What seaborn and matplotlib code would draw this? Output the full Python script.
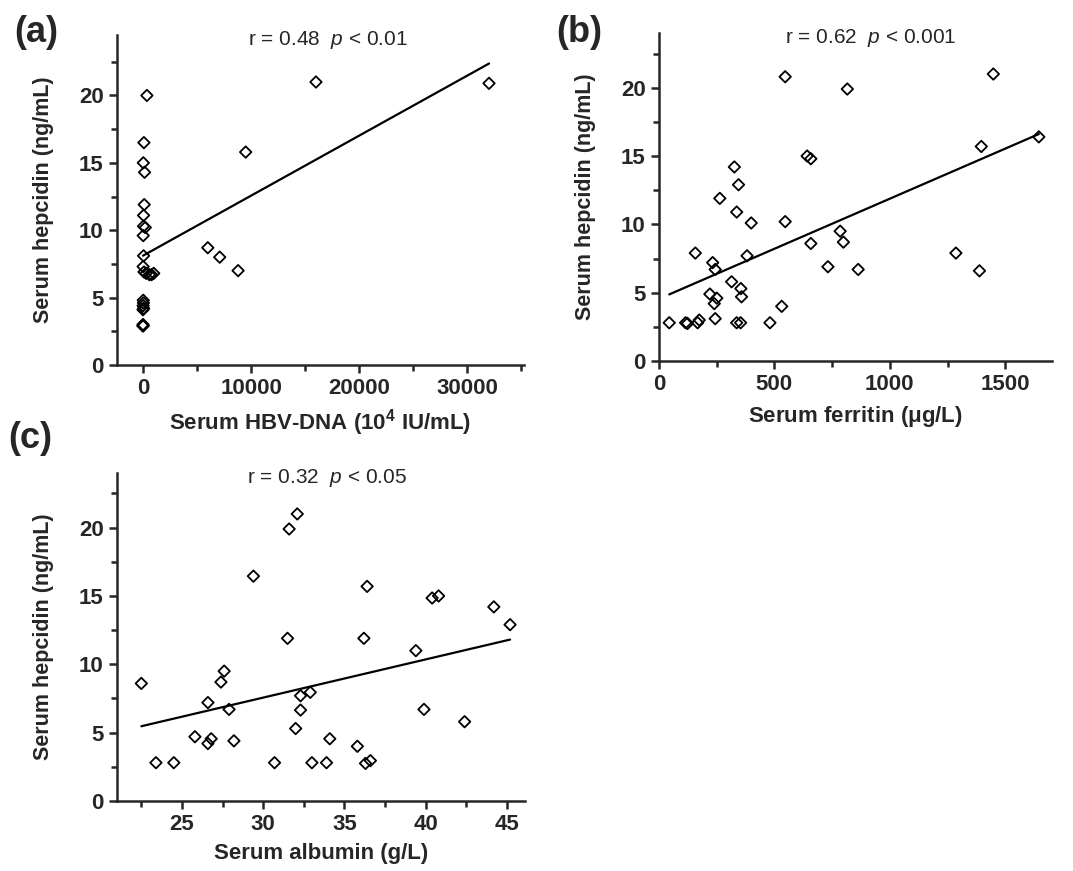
import numpy as np
import pandas as pd
import matplotlib
matplotlib.use("Agg")
import matplotlib.pyplot as plt
from matplotlib.ticker import MultipleLocator
import seaborn as sns

# --- data ---
# (a) HBV-DNA (10^4 IU/mL) vs hepcidin
hbv_dna = [32000, 16000, 9500, 6000, 7100, 8800,
           370, 90, 40, 150, 120, 60, 50, 220, 30, 60, 20, 100,
           300, 600, 800, 1000, 30, 50, 20, 60, 10, 10, 20, 5]
hepcidin_a = [20.9, 21.0, 15.8, 8.7, 8.0, 7.0,
              20.0, 16.5, 15.0, 14.3, 11.9, 11.1, 10.3, 10.2, 9.6, 8.1, 7.3, 6.9,
              6.8, 6.7, 6.7, 6.8, 4.8, 4.6, 4.4, 4.2, 4.1, 3.0, 2.9, 2.9]

# (b) ferritin (ug/L) vs hepcidin
ferritin = [45, 116, 124, 168, 175, 158, 233, 244, 221, 240, 251, 244, 264, 315,
            327, 345, 337, 355, 358, 337, 354, 400, 382, 481, 532, 547, 547, 642,
            658, 658, 732, 785, 799, 816, 863, 1286, 1388, 1396, 1448, 1645]
hepcidin_b = [2.8, 2.8, 2.75, 2.8, 3.0, 7.9, 7.2, 6.7, 4.9, 4.2, 4.6, 3.1, 11.9, 5.8,
              14.2, 12.9, 10.9, 5.3, 4.7, 2.8, 2.8, 10.1, 7.7, 2.8, 4.0, 20.8, 10.2, 15.0,
              14.8, 8.6, 6.9, 9.5, 8.7, 19.9, 6.7, 7.9, 6.6, 15.7, 21.0, 16.4]

# (c) albumin (g/L) vs hepcidin
albumin = [22.5, 23.4, 24.5, 25.8, 26.6, 26.6, 26.8, 27.4, 27.6, 27.9, 28.2, 29.4,
           30.7, 31.5, 31.6, 32.1, 32.0, 32.3, 32.3, 32.9, 33.0, 33.9, 34.1, 35.8,
           36.2, 36.4, 36.3, 36.6, 39.4, 39.9, 40.4, 40.8, 42.4, 44.2, 45.2]
hepcidin_c = [8.6, 2.8, 2.8, 4.7, 7.2, 4.2, 4.55, 8.7, 9.5, 6.7, 4.4, 16.45,
              2.8, 11.9, 19.9, 21.0, 5.3, 7.7, 6.65, 7.95, 2.8, 2.8, 4.55, 4.0,
              11.9, 15.7, 2.75, 2.95, 11.0, 6.7, 14.85, 15.0, 5.8, 14.2, 12.9]

panel_labels = ["(a)", "(b)", "(c)"]
stats_text = ["r = 0.48  $\\it{p}$ < 0.01",
              "r = 0.62  $\\it{p}$ < 0.001",
              "r = 0.32  $\\it{p}$ < 0.05"]
x_labels = ["Serum HBV-DNA (10$^{\\bf{4}}$ IU/mL)",
            "Serum ferritin ($\\mathbf{\\mu}$g/L)",
            "Serum albumin (g/L)"]
y_label = "Serum hepcidin (ng/mL)"

sns.set_theme(style="ticks")
plt.rcParams["font.family"] = ["Liberation Sans", "DejaVu Sans"]
plt.rcParams["mathtext.fontset"] = "custom"
plt.rcParams["mathtext.rm"] = "Liberation Sans"
plt.rcParams["mathtext.it"] = "Liberation Sans:italic"
plt.rcParams["mathtext.bf"] = "Liberation Sans:bold"
plt.rcParams["axes.linewidth"] = 1.8

fig = plt.figure(figsize=(10.73, 8.71), dpi=100)
ax_a = fig.add_axes([0.109, 0.581, 0.379, 0.379])
ax_b = fig.add_axes([0.614, 0.5855, 0.366, 0.3766])
ax_c = fig.add_axes([0.109, 0.0804, 0.380, 0.3766])

panels = [
    (ax_a, hbv_dna, hepcidin_a, (-2400, 35200), (0, 24.5), 10000, 5000, 0.518),
    (ax_b, ferritin, hepcidin_b, (0, 1700), (0, 24), 500, 250, 0.54),
    (ax_c, albumin, hepcidin_c, (21.0, 46.1), (0, 24), 5, 2.5, 0.515),
]

for i, (ax, x, y, xlim, ylim, xmaj, xmin, tx) in enumerate(panels):
    df = pd.DataFrame({"x": x, "y": y})
    sns.regplot(data=df, x="x", y="y", ax=ax, ci=None, marker="D",
                scatter_kws={"s": 34, "facecolors": "none", "edgecolors": "black",
                             "linewidths": 1.3, "alpha": 1, "zorder": 3},
                line_kws={"color": "black", "lw": 1.6}, color="black")
    ax.set_xlim(*xlim)
    ax.set_ylim(*ylim)
    ax.xaxis.set_major_locator(MultipleLocator(xmaj))
    ax.xaxis.set_minor_locator(MultipleLocator(xmin))
    ax.yaxis.set_major_locator(MultipleLocator(5))
    ax.yaxis.set_minor_locator(MultipleLocator(2.5))
    ax.tick_params(which="major", length=6, width=1.8, labelsize=16, direction="out")
    ax.tick_params(which="minor", length=4, width=1.8, direction="out")
    for lab in ax.get_xticklabels() + ax.get_yticklabels():
        lab.set_fontweight("bold")
    sns.despine(ax=ax)
    ax.set_xlabel(x_labels[i], fontsize=16, fontweight="bold", labelpad=6)
    ax.set_ylabel(y_label, fontsize=15.5, fontweight="bold", labelpad=18)
    ax.text(tx, 0.985, stats_text[i], transform=ax.transAxes, ha="center",
            va="center", fontsize=15)

fig.text(0.013, 0.963, panel_labels[0], fontsize=26, fontweight="bold", va="center")
fig.text(0.518, 0.963, panel_labels[1], fontsize=26, fontweight="bold", va="center")
fig.text(0.008, 0.496, panel_labels[2], fontsize=26, fontweight="bold", va="center")

fig.savefig("out.png", dpi=100)
